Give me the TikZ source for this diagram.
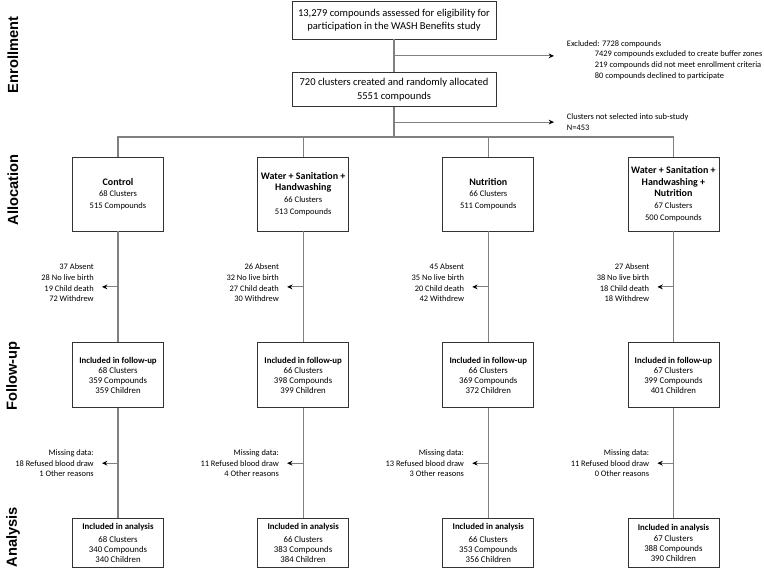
\documentclass[tikz,border=0pt]{standalone}
\usepackage{fontspec}
\setmainfont{Carlito}
\newfontfamily\phasefont{Liberation Sans}
\usetikzlibrary{positioning, arrows.meta, calc}
\newcommand{\armtitle}[1]{{\fontsize{7.5}{9}\selectfont\bfseries #1}}
\tikzset{
    >={Stealth[black, length=4pt, width=3.6pt]},
    line/.style={draw=black!50, line width=0.8pt},
    lossarrow/.style={line, ->, shorten >=5pt},
    box/.style={draw=black!80, line width=0.6pt, align=center, inner sep=1pt},
    topbox/.style={box, minimum width=153pt, minimum height=28.5pt, font=\fontsize{7.9}{10}\selectfont},
    armbox/.style={box, minimum width=68.25pt, minimum height=55.5pt, font=\fontsize{6.4}{8.8}\selectfont},
    fubox/.style={box, minimum width=68.25pt, minimum height=48.75pt, font=\fontsize{6.6}{7.6}\selectfont},
    anbox/.style={box, minimum width=68.25pt, minimum height=36.75pt, font=\fontsize{6.6}{7.5}\selectfont},
    sidetext/.style={inner sep=1pt, font=\fontsize{6.3}{8}\selectfont},
    losstext/.style={sidetext, align=right},
    phase/.style={rotate=90, font=\phasefont\bfseries\fontsize{11}{13}\selectfont},
}

\begin{document}
\begin{tikzpicture}[x=0.75pt, y=-0.75pt]
        \useasboundingbox (0,0) rectangle (764,571);

        % phases
        \node[phase] (enrol) at (13,55) {Enrollment};
        \node[phase] (alloc) at (13,190) {Allocation};
        \node[phase] (follow) at (13,376) {Follow-up};
        \node[phase] (anal) at (13,537) {Analysis};

        % enrollment
        \node[topbox] (screen) at (394,20) {13,279 compounds assessed for eligibility for\\participation in the WASH Benefits study};
        \node[topbox, minimum height=25.5pt, below=24.75pt of screen] (rand) {720 clusters created and randomly allocated\\5551 compounds};
        \coordinate (bar) at (394,137);
        \coordinate (b1) at ($(screen.south)!0.5!(rand.north)$);
        \coordinate (b2) at ($(rand.south)!0.5!(bar)$);
        \node[sidetext, align=left, right=128.5pt of b1, yshift=-3pt] (excluded) {Excluded: 7728 compounds\\
            \hspace*{21pt}7429 compounds excluded to create buffer zones\\
            \hspace*{21pt}219 compounds did not meet enrollment criteria\\
            \hspace*{21pt}80 compounds declined to participate};
        \node[sidetext, align=left, right=128.5pt of b2] (notsel) {Clusters not selected into sub-study\\N=453};

        % arms
        \node[armbox] (arm1) at (118,194) {\armtitle{Control}\\68 Clusters\\515 Compounds};
        \node[armbox, right=70pt of arm1] (arm2) {\armtitle{Water + Sanitation +}\\\armtitle{Handwashing}\\66 Clusters\\513 Compounds};
        \node[armbox, right=70pt of arm2] (arm3) {\armtitle{Nutrition}\\66 Clusters\\511 Compounds};
        \node[armbox, right=70pt of arm3] (arm4) {\armtitle{Water + Sanitation +}\\\armtitle{Handwashing +}\\\armtitle{Nutrition}\\67 Clusters\\500 Compounds};

        % follow-up
        \node[fubox, below=83.25pt of arm1] (fu1) {\textbf{Included in follow-up}\\68 Clusters\\359 Compounds\\359 Children};
        \node[fubox, below=83.25pt of arm2] (fu2) {\textbf{Included in follow-up}\\66 Clusters\\398 Compounds\\399 Children};
        \node[fubox, below=83.25pt of arm3] (fu3) {\textbf{Included in follow-up}\\66 Clusters\\369 Compounds\\372 Children};
        \node[fubox, below=83.25pt of arm4] (fu4) {\textbf{Included in follow-up}\\67 Clusters\\399 Compounds\\401 Children};

        % analysis
        \node[anbox, below=82.5pt of fu1] (an1) {\textbf{Included in analysis}\\[2pt]68 Clusters\\340 Compounds\\340 Children};
        \node[anbox, below=82.5pt of fu2] (an2) {\textbf{Included in analysis}\\[2pt]66 Clusters\\383 Compounds\\384 Children};
        \node[anbox, below=82.5pt of fu3] (an3) {\textbf{Included in analysis}\\[2pt]66 Clusters\\353 Compounds\\356 Children};
        \node[anbox, below=82.5pt of fu4] (an4) {\textbf{Included in analysis}\\[1pt]67 Clusters\\388 Compounds\\390 Children};

        % losses
        \coordinate (m1) at ($(arm1.south)!0.5!(fu1.north)$);
        \coordinate (m2) at ($(arm2.south)!0.5!(fu2.north)$);
        \coordinate (m3) at ($(arm3.south)!0.5!(fu3.north)$);
        \coordinate (m4) at ($(arm4.south)!0.5!(fu4.north)$);
        \node[losstext, left=17pt of m1, yshift=3pt] (loss1) {37 Absent\\28 No live birth\\19 Child death\\72 Withdrew};
        \node[losstext, left=17pt of m2, yshift=3pt] (loss2) {26 Absent\\32 No live birth\\27 Child death\\30 Withdrew};
        \node[losstext, left=17pt of m3, yshift=3pt] (loss3) {45 Absent\\35 No live birth\\20 Child death\\42 Withdrew};
        \node[losstext, left=17pt of m4, yshift=3pt] (loss4) {27 Absent\\38 No live birth\\18 Child death\\18 Withdrew};

        \coordinate (n1) at ($(fu1.south)!0.5!(an1.north)$);
        \coordinate (n2) at ($(fu2.south)!0.5!(an2.north)$);
        \coordinate (n3) at ($(fu3.south)!0.5!(an3.north)$);
        \coordinate (n4) at ($(fu4.south)!0.5!(an4.north)$);
        \node[losstext, left=17pt of n1] (miss1) {Missing data:\\18 Refused blood draw\\1 Other reasons};
        \node[losstext, left=17pt of n2] (miss2) {Missing data:\\11 Refused blood draw\\4 Other reasons};
        \node[losstext, left=17pt of n3] (miss3) {Missing data:\\13 Refused blood draw\\3 Other reasons};
        \node[losstext, left=17pt of n4] (miss4) {Missing data:\\11 Refused blood draw\\0 Other reasons};

        % connectors
        \draw[line] (screen) -- (rand);
        \draw[line] (rand) -- (bar);
        \draw[line] (arm1.north) |- (bar) -| (arm4.north);
        \draw[line] (arm2) -- (arm2 |- bar);
        \draw[line] (arm3) -- (arm3 |- bar);
        \draw[line, ->, shorten >=8.5pt] (b1) -- (b1 -| excluded.west);
        \draw[line, ->, shorten >=8.5pt] (b2) -- (notsel.west);
        \draw[line] (arm1) -- (fu1) -- (an1);
        \draw[line] (arm2) -- (fu2) -- (an2);
        \draw[line] (arm3) -- (fu3) -- (an3);
        \draw[line] (arm4) -- (fu4) -- (an4);
        \path
            (m1) edge[lossarrow] (m1 -| loss1.east)
            (m2) edge[lossarrow] (m2 -| loss2.east)
            (m3) edge[lossarrow] (m3 -| loss3.east)
            (m4) edge[lossarrow] (m4 -| loss4.east)
            (n1) edge[lossarrow] (n1 -| miss1.east)
            (n2) edge[lossarrow] (n2 -| miss2.east)
            (n3) edge[lossarrow] (n3 -| miss3.east)
            (n4) edge[lossarrow] (n4 -| miss4.east);
    \end{tikzpicture}
\end{document}
